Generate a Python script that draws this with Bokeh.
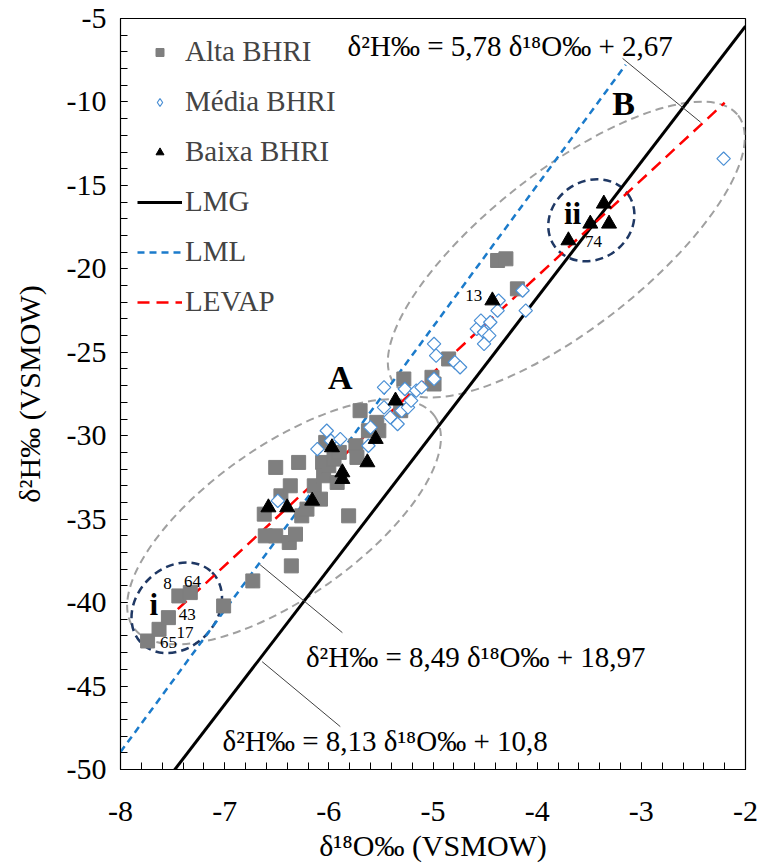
import numpy as np
from bokeh.plotting import figure
from bokeh.models import Range1d, SingleIntervalTicker, Legend, LegendItem, Label
from bokeh.embed import file_html
from bokeh.resources import INLINE

# ---------------- data ----------------
alta_x = [-7.74, -7.63, -7.54, -7.44, -7.33, -7.01, -6.73, -6.36, -6.61, -6.51, -6.38, -6.32, -6.62,
          -6.51, -6.29, -6.46, -6.37, -6.26, -6.21, -6.14, -6.08, -6.06, -6.05, -6.00, -5.92, -5.81,
          -5.95, -6.03, -5.90, -5.74, -5.73, -5.70, -5.62, -5.54, -5.52, -5.28, -5.31, -4.99, -4.85,
          -5.01, -4.38, -4.30, -4.19]
alta_y = [-42.3, -41.6, -40.9, -39.6, -39.4, -40.2, -38.7, -37.8, -36.0, -36.0, -36.4, -35.9, -34.7,
          -31.9, -31.6, -33.6, -33.0, -34.8, -34.4, -33.0, -33.8, -31.6, -32.4, -31.8, -32.8, -34.8,
          -31.4, -30.4, -31.0, -30.6, -31.3, -28.5, -29.7, -29.2, -29.7, -26.6, -28.5, -26.9, -25.4,
          -26.5, -19.5, -19.4, -21.2]

media_x = [-6.49, -6.11, -6.02, -5.98, -5.89, -5.60, -5.62, -5.47, -5.47, -5.41, -5.34, -5.30, -5.24,
           -5.21, -5.27, -5.16, -5.11, -4.99, -4.99, -4.97, -4.79, -4.74, -4.58, -4.54, -4.45, -4.51,
           -4.46, -4.51, -4.37, -4.38, -4.14, -4.11, -2.21]
media_y = [-33.9, -30.8, -29.7, -30.3, -30.2, -29.5, -30.6, -27.1, -28.3, -28.9, -29.3, -28.5, -28.3,
           -27.9, -27.2, -27.3, -27.1, -26.6, -24.5, -25.2, -25.6, -25.9, -23.6, -23.1, -23.2, -23.8,
           -24.0, -24.5, -21.9, -22.5, -21.3, -22.5, -13.4]

baixa_x = [-6.58, -6.40, -6.16, -5.97, -5.87, -5.87, -5.63, -5.55, -5.36, -4.43, -3.70, -3.49, -3.31, -3.36]
baixa_y = [-34.3, -34.3, -33.9, -30.7, -32.2, -32.6, -31.6, -30.2, -27.9, -21.9, -18.3, -17.3, -17.3, -16.1]

# regression lines: LMG, LML, LEVAP
line_names = ["LMG", "LML", "LEVAP"]
line_slopes = [8.13, 8.49, 5.78]
line_intercepts = [10.8, 18.97, 2.67]
line_x_start = [-7.6, -8.0, -7.45]
line_x_end = [-2.0, -3.15, -2.2]
line_colors = ["#000000", "#1B7BCB", "#FF0000"]
line_dashes = ["solid", "7 5", "12 7"]
line_widths = [3, 2.5, 2.5]

eq_texts = ["δ²H‰ = 5,78 δ¹⁸O‰ + 2,67", "δ²H‰ = 8,49 δ¹⁸O‰ + 18,97", "δ²H‰ = 8,13 δ¹⁸O‰ + 10,8"]

x_ticks = [-8, -7, -6, -5, -4, -3, -2]
y_ticks = [-50, -45, -40, -35, -30, -25, -20, -15, -10, -5]

SERIF = "Liberation Serif"

p = figure(width=758, height=864, x_range=Range1d(-8, -2), y_range=Range1d(-50, -5),
           output_backend="svg", toolbar_location=None,
           min_border_left=120, min_border_right=13, min_border_top=18, min_border_bottom=94)
p.xgrid.visible = False
p.ygrid.visible = False
p.outline_line_color = "black"
p.outline_line_width = 1.2
p.background_fill_color = "white"
p.border_fill_color = "white"

p.xaxis.ticker = SingleIntervalTicker(interval=1, num_minor_ticks=5)
p.yaxis.ticker = SingleIntervalTicker(interval=5, num_minor_ticks=5)
p.xaxis.major_label_overrides = {t: str(t) for t in x_ticks}
p.yaxis.major_label_overrides = {t: str(t) for t in y_ticks}
for ax in (p.xaxis[0], p.yaxis[0]):
    ax.major_tick_in = 7
    ax.major_tick_out = 0
    ax.minor_tick_in = 7
    ax.minor_tick_out = 0
    ax.major_tick_line_color = "black"
    ax.minor_tick_line_color = "black"
    ax.axis_line_color = "black"
    ax.major_label_text_font = SERIF
    ax.major_label_text_font_size = "30px"
    ax.major_label_text_color = "black"
    ax.axis_label_text_font = SERIF
    ax.axis_label_text_font_size = "30px"
    ax.axis_label_text_font_style = "normal"
    ax.axis_label_text_color = "black"
p.xaxis.major_label_standoff = 32
p.yaxis.major_label_standoff = 14
p.xaxis.axis_label = "δ¹⁸O‰ (VSMOW)"
p.yaxis.axis_label = "δ²H‰ (VSMOW)"
p.xaxis.axis_label_standoff = 5
p.yaxis.axis_label_standoff = 18

# ellipses (annotation groups)
p.ellipse(x=[-6.43, -3.72], y=[-35.16, -18.85], width=[368, 436], height=[152, 158],
          angle=[np.deg2rad(35), np.deg2rad(38)], width_units="screen", height_units="screen",
          fill_color=None, line_color="#A0A0A0", line_width=2, line_dash="8 5")
p.ellipse(x=[-7.46, -3.48], y=[-40.31, -17.09], width=[100, 90], height=[80, 78],
          angle=[np.deg2rad(45), np.deg2rad(35)], width_units="screen", height_units="screen",
          fill_color=None, line_color="#1F3864", line_width=2.5, line_dash="8 5")

# regression lines
line_renderers = []
for name, m, b, xs, xe, c, d, w in zip(line_names, line_slopes, line_intercepts, line_x_start,
                                        line_x_end, line_colors, line_dashes, line_widths):
    xx = [xs, xe]
    yy = [m * xs + b, m * xe + b]
    r = p.line(xx, yy, line_color=c, line_width=w, line_dash=d)
    line_renderers.append(r)

# leader lines for equations
p.segment(x0=[-3.18, -6.66, -6.64], y0=[-7.39, -37.73, -43.54],
          x1=[-2.43, -5.87, -5.89], y1=[-11.22, -41.80, -47.43],
          line_color="#404040", line_width=1)

# points
r_alta = p.scatter(alta_x, alta_y, marker="square", size=14, fill_color="#7F7F7F",
                   line_color="#7F7F7F")
r_media = p.scatter(media_x, media_y, marker="square", size=9.5, angle=np.pi / 4,
                    fill_color="white", line_color="#4A8FD4", line_width=1.2)
# same points, diamond-shaped glyph used only as the legend symbol
r_media_key = p.scatter(media_x, media_y, marker="diamond", size=16,
                        fill_color="white", line_color="#4A8FD4", line_width=1.2, visible=False)
r_baixa = p.scatter(baixa_x, baixa_y, marker="triangle", size=15, fill_color="black",
                    line_color="black")

# equation labels
eq_pos = [(-5.82, -6.62), (-6.22, -43.24), (-7.02, -48.32)]
for t, (ex, ey) in zip(eq_texts, eq_pos):
    p.add_layout(Label(x=ex, y=ey, text=t, text_font=SERIF, text_font_size="29px",
                       text_baseline="middle", text_align="left", text_color="black"))

# group letters
for t, (gx, gy), fs in [("A", (-5.89, -26.54), "34px"), ("B", (-3.17, -10.09), "34px"),
                        ("i", (-7.68, -40.13), "31px"), ("ii", (-3.66, -16.67), "31px")]:
    p.add_layout(Label(x=gx, y=gy, text=t, text_font=SERIF, text_font_size=fs,
                       text_font_style="bold", text_baseline="middle", text_align="center",
                       text_color="black"))

# sample numbers
sample_ids = ["8", "64", "43", "17", "65", "13", "74"]
sample_lx = [-7.55, -7.31, -7.36, -7.38, -7.54, -4.61, -3.46]
sample_ly = [-38.83, -38.73, -40.72, -41.78, -42.38, -21.58, -18.34]
for t, sx, sy in zip(sample_ids, sample_lx, sample_ly):
    p.add_layout(Label(x=sx, y=sy, text=t, text_font=SERIF, text_font_size="17px",
                       text_baseline="middle", text_align="center", text_color="black"))

legend = Legend(items=[
    LegendItem(label="Alta BHRI", renderers=[r_alta]),
    LegendItem(label="Média BHRI", renderers=[r_media_key]),
    LegendItem(label="Baixa BHRI", renderers=[r_baixa]),
    LegendItem(label="LMG", renderers=[line_renderers[0]]),
    LegendItem(label="LML", renderers=[line_renderers[1]]),
    LegendItem(label="LEVAP", renderers=[line_renderers[2]]),
], location="top_left", margin=17, padding=22, spacing=17, glyph_width=45, glyph_height=20,
    label_height=20, label_standoff=3, label_text_font=SERIF, label_text_font_size="29px",
    border_line_color=None, background_fill_alpha=0)
p.add_layout(legend)

open("out.html", "w").write(file_html(p, INLINE))
